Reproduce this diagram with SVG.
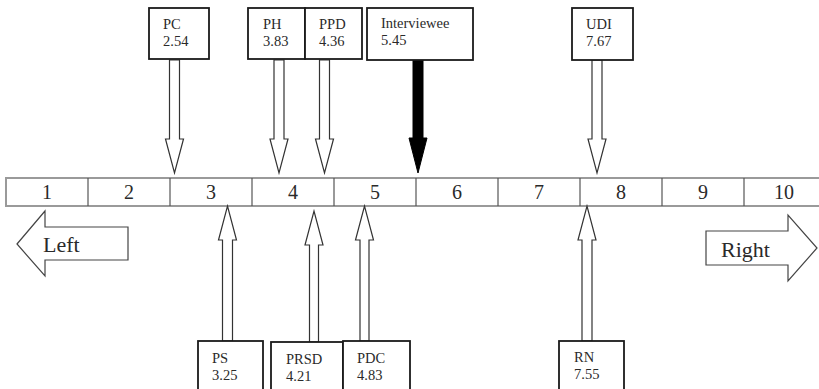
<svg xmlns="http://www.w3.org/2000/svg" width="819" height="389" viewBox="0 0 819 389" font-family="'Liberation Serif', 'Times New Roman', serif">
<style>
text{font-family:'Liberation Serif','Times New Roman',serif;fill:#2a2a2a}
.lbl{font-size:14.5px}
.num{font-size:20px;text-anchor:middle}
.big{font-size:22px}
.box{fill:#fff;stroke:#1a1a1a;stroke-width:1.8}
.hollow{fill:#fff;stroke:#333;stroke-width:1.2;stroke-linejoin:miter}
.solid{fill:#000;stroke:#000;stroke-width:1}
.dir{fill:#fff;stroke:#444;stroke-width:1.2}
.div{stroke:#555;stroke-width:1.2}
</style>
<rect width="819" height="389" fill="#fff"/>
<g id="scale">
<rect x="6" y="178" width="830" height="28" fill="#fff" stroke="#9a9a9a" stroke-width="2"/>
<line class="div" x1="88" y1="178" x2="88" y2="206"/>
<line class="div" x1="170" y1="178" x2="170" y2="206"/>
<line class="div" x1="252" y1="178" x2="252" y2="206"/>
<line class="div" x1="334" y1="178" x2="334" y2="206"/>
<line class="div" x1="416" y1="178" x2="416" y2="206"/>
<line class="div" x1="498" y1="178" x2="498" y2="206"/>
<line class="div" x1="580" y1="178" x2="580" y2="206"/>
<line class="div" x1="662" y1="178" x2="662" y2="206"/>
<line class="div" x1="744" y1="178" x2="744" y2="206"/>
<text class="num" x="47" y="199">1</text>
<text class="num" x="129" y="199">2</text>
<text class="num" x="211" y="199">3</text>
<text class="num" x="293" y="199">4</text>
<text class="num" x="375" y="199">5</text>
<text class="num" x="457" y="199">6</text>
<text class="num" x="539" y="199">7</text>
<text class="num" x="621" y="199">8</text>
<text class="num" x="703" y="199">9</text>
<text class="num" x="784" y="199">10</text>
</g>
<g id="left">
<polygon class="dir" points="17,244 45,211 45,227 128,227 128,260 45,260 45,276"/>
<text class="big" x="43" y="252">Left</text>
</g>
<g id="right">
<polygon class="dir" points="706,231 788,231 788,215 817,248 788,281 788,265 706,265"/>
<text class="big" x="721" y="257">Right</text>
</g>
<g id="connectors">
<polygon class="hollow" points="169.5,60 179.5,60 179.5,139 183.5,139 174.5,173 165.5,139 169.5,139"/>
<polygon class="hollow" points="274,60 284,60 284,139 288,139 279,173 270,139 274,139"/>
<polygon class="hollow" points="319.5,60 329.5,60 329.5,139 333.5,139 324.5,173 315.5,139 319.5,139"/>
<polygon class="solid" points="413,60 423,60 423,138 427,138 418,173 409,138 413,138"/>
<polygon class="hollow" points="592,60 602,60 602,139 606,139 597,173 588,139 592,139"/>
<polygon class="hollow" points="222.5,341 232.5,341 232.5,240 236.5,240 227.5,206 218.5,240 222.5,240"/>
<polygon class="hollow" points="309.5,342 318.5,342 318.5,245 323,245 314,211 305,245 309.5,245"/>
<polygon class="hollow" points="360,341 369,341 369,240 373.5,240 364.5,206 355.5,240 360,240"/>
<polygon class="hollow" points="582,341 592,341 592,240 596,240 587,206 578,240 582,240"/>
</g>
<g id="PC">
<rect class="box" x="149" y="8" width="60" height="51"/>
<text class="lbl" x="163" y="29">PC</text>
<text class="lbl" x="163" y="46">2.54</text>
</g>
<g id="PH">
<rect class="box" x="248" y="8" width="57" height="51"/>
<text class="lbl" x="263" y="29">PH</text>
<text class="lbl" x="263" y="46">3.83</text>
</g>
<g id="PPD">
<rect class="box" x="305" y="8" width="57" height="51"/>
<text class="lbl" x="319" y="29">PPD</text>
<text class="lbl" x="319" y="46">4.36</text>
</g>
<g id="Interviewee">
<rect class="box" x="367" y="8" width="106" height="52"/>
<text class="lbl" x="381" y="28">Interviewee</text>
<text class="lbl" x="381" y="45">5.45</text>
</g>
<g id="UDI">
<rect class="box" x="572" y="8" width="61" height="52"/>
<text class="lbl" x="586" y="29">UDI</text>
<text class="lbl" x="586" y="46">7.67</text>
</g>
<g id="PS">
<rect class="box" x="198" y="341" width="65" height="60"/>
<text class="lbl" x="212" y="363">PS</text>
<text class="lbl" x="212" y="380">3.25</text>
</g>
<g id="PRSD">
<rect class="box" x="271" y="342" width="72" height="60" stroke-width="1.3"/>
<text class="lbl" x="286" y="364">PRSD</text>
<text class="lbl" x="286" y="381">4.21</text>
</g>
<g id="PDC">
<rect class="box" x="343" y="341" width="67" height="60"/>
<text class="lbl" x="357" y="363">PDC</text>
<text class="lbl" x="357" y="380">4.83</text>
</g>
<g id="RN">
<rect class="box" x="559" y="341" width="65" height="60"/>
<text class="lbl" x="574" y="362">RN</text>
<text class="lbl" x="574" y="379">7.55</text>
</g>
</svg>
